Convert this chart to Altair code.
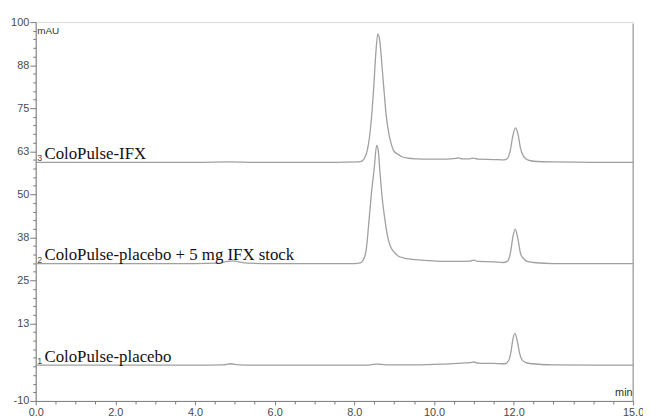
import altair as alt
import pandas as pd

# ---- data ----
t3 = [0, 1, 2, 3, 4, 4.9, 5.5, 6.5, 7.5, 8.1, 8.2, 8.27, 8.33, 8.38, 8.43, 8.49, 8.54, 8.59, 8.64, 8.70,
      8.75, 8.80, 8.87, 8.93, 8.99, 9.1, 9.2, 9.35, 9.55, 9.9, 10.3, 10.55, 10.62, 10.7, 10.9, 11.0, 11.1,
      11.5, 11.75, 11.85, 11.92, 11.98, 12.05, 12.11, 12.17, 12.25, 12.35, 12.5, 13.0, 14.0, 15.0]
v3 = [59.3, 59.3, 59.3, 59.3, 59.3, 59.4, 59.3, 59.3, 59.3, 59.4, 59.7, 60.8, 63.0, 66.5, 72.0, 81.5, 91.0,
      96.6, 94.5, 86.6, 79.5, 73.0, 67.4, 64.5, 62.6, 61.6, 60.9, 60.5, 60.3, 60.2, 60.2, 60.4, 60.6, 60.3,
      60.3, 60.5, 60.2, 60.1, 60.0, 60.5, 63.0, 67.0, 69.3, 67.5, 63.5, 61.0, 60.0, 59.6, 59.4, 59.3, 59.3]

t2 = [0, 1, 2, 3, 4, 4.6, 4.8, 4.95, 5.1, 5.3, 6, 7, 8.0, 8.15, 8.22, 8.3, 8.37, 8.44, 8.50, 8.56, 8.60,
      8.64, 8.70, 8.77, 8.84, 8.91, 9.0, 9.11, 9.25, 9.4, 9.78, 10.2, 10.6, 10.9, 11.0, 11.1, 11.5, 11.75,
      11.85, 11.92, 11.98, 12.04, 12.10, 12.18, 12.26, 12.34, 12.5, 13.0, 14.0, 15.0]
v2 = [29.9, 29.9, 29.9, 29.9, 29.9, 30.0, 30.5, 30.7, 30.4, 30.0, 29.9, 29.9, 29.9, 30.1, 30.8, 34.0, 42.5,
      51.5, 57.5, 64.2, 62.8, 57.0, 49.0, 42.5, 37.5, 34.8, 33.2, 32.0, 31.5, 31.2, 30.8, 30.5, 30.5, 30.6,
      30.9, 30.5, 30.4, 30.2, 30.6, 33.0, 37.5, 39.9, 37.5, 32.5, 31.2, 30.5, 30.2, 29.9, 29.9, 29.9]

t1 = [0, 1, 2, 3, 4, 4.7, 4.9, 5.1, 5.5, 6.5, 7.5, 8.3, 8.55, 8.8, 9.5, 10.2, 10.7, 10.9, 11.0, 11.1, 11.5,
      11.78, 11.87, 11.93, 11.98, 12.03, 12.09, 12.15, 12.22, 12.3, 12.45, 13.0, 14.0, 15.0]
v1 = [0.4, 0.4, 0.4, 0.4, 0.4, 0.5, 0.8, 0.5, 0.4, 0.4, 0.4, 0.4, 0.7, 0.5, 0.5, 0.7, 1.0, 1.1, 1.3, 1.0,
      0.9, 0.8, 1.6, 4.0, 7.8, 9.6, 7.5, 3.8, 1.8, 1.2, 0.8, 0.5, 0.4, 0.4]

trace_ids = ["3", "2", "1"]
trace_names = ["ColoPulse-IFX", "ColoPulse-placebo + 5 mg IFX stock", "ColoPulse-placebo"]
name_t = [0.22, 0.22, 0.22]
name_v = [60.3, 30.9, 1.2]
id_t = [0.04, 0.04, 0.04]
id_v = [59.7, 30.1, 0.8]

# right-hand border line of the chromatogram window
edge_t = [15]
edge_lo = [-10]
edge_hi = [99.5]

x_ticks = [0, 2, 4, 6, 8, 10, 12, 15]
x_minor = [0.5, 1, 1.5, 2.5, 3, 3.5, 4.5, 5, 5.5, 6.5, 7, 7.5, 8.5, 9, 9.5, 10.5, 11, 11.5, 12.5, 13, 13.5, 14, 14.5]
y_ticks = [100, 87.5, 75, 62.5, 50, 37.5, 25, 12.5, -10]
y_minor = [97.5, 95, 92.5, 90, 85, 82.5, 80, 77.5, 72.5, 70, 67.5, 65, 60, 57.5, 55, 52.5, 47.5, 45, 42.5, 40,
           35, 32.5, 30, 27.5, 22.5, 20, 17.5, 15, 10, 7.5, 5, 2.5, 0, -2.5, -5, -7.5]

# ---- build tables ----
rows = []
for tid, ts, vs in zip(trace_ids, [t3, t2, t1], [v3, v2, v1]):
    assert len(ts) == len(vs)
    for t, v in zip(ts, vs):
        rows.append({"trace": tid, "t": t, "v": v})
df = pd.DataFrame(rows)
names = pd.DataFrame({"t": name_t, "v": name_v, "label": trace_names})
ids = pd.DataFrame({"t": id_t, "v": id_v, "label": trace_ids})
edge_df = pd.DataFrame({"t": edge_t, "lo": edge_lo, "hi": edge_hi})

W, H = 604, 383
AX = "#7a7a7a"
LAB = "#4a4a4a"

xscale = alt.Scale(domain=[0, 15], nice=False, zero=False)
yscale = alt.Scale(domain=[-10, 100], nice=False, zero=False)

x_axis = alt.Axis(values=x_ticks, format=".1f", title="min", grid=False,
                  domainColor=AX, tickColor=AX, tickSize=4, labelColor=LAB, labelFont="Liberation Sans",
                  labelFontSize=11, labelPadding=2, labelFlush=False, labelOverlap=False,
                  titleFont="Liberation Sans", titleFontSize=11, titleFontWeight="normal", titleColor="#333333",
                  titleX=W - 1, titleY=-3, titleAlign="right", titleBaseline="bottom", titleLimit=200,
                  orient="bottom")
y_axis = alt.Axis(values=y_ticks, labelExpr="replace(format(datum.value, '.0f'), '\u2212', '-')",
                  title="mAU", grid=False,
                  domainColor=AX, tickColor=AX, tickSize=6, labelColor=LAB, labelFont="Liberation Sans",
                  labelFontSize=11, labelPadding=1, labelOverlap=False, labelFlush=False,
                  titleFont="Liberation Sans", titleFontSize=10, titleFontWeight="normal", titleColor="#333333",
                  titleAngle=0, titleX=1, titleY=9, titleAlign="left", titleBaseline="middle", titleLimit=200,
                  orient="left")

lines = alt.Chart(df).mark_line(color="#a0a0a0", strokeWidth=1.3, interpolate="monotone").encode(
    x=alt.X("t:Q", scale=xscale, axis=x_axis),
    y=alt.Y("v:Q", scale=yscale, axis=y_axis),
    detail="trace:N",
)

edge = alt.Chart(edge_df).mark_rule(color="#9c9c9c", strokeWidth=1.2).encode(
    x=alt.X("t:Q", scale=xscale,
            axis=alt.Axis(values=x_minor, labels=False, domain=False, title=None, grid=False,
                          tickColor=AX, tickSize=3, orient="bottom")),
    y=alt.Y("lo:Q", scale=yscale,
            axis=alt.Axis(values=y_minor, labels=False, domain=False, title=None, grid=False,
                          tickColor=AX, tickSize=3, orient="left")),
    y2="hi:Q",
)

name_text = alt.Chart(names).mark_text(font="Liberation Serif", fontSize=17, color="#111111",
                                       align="left", baseline="alphabetic").encode(
    x=alt.X("t:Q", scale=xscale, axis=None), y=alt.Y("v:Q", scale=yscale, axis=None), text="label:N")

id_text = alt.Chart(ids).mark_text(font="Liberation Sans", fontSize=9, color=LAB,
                                   align="left", baseline="alphabetic").encode(
    x=alt.X("t:Q", scale=xscale, axis=None), y=alt.Y("v:Q", scale=yscale, axis=None), text="label:N")

chart = alt.layer(lines, edge, name_text, id_text).resolve_axis(
    x="independent", y="independent"
).properties(
    width=W, height=H,
    autosize=alt.AutoSizeParams(type="none"),
    padding={"left": 28, "top": 12, "right": 10, "bottom": 16},
).configure_view(stroke=None).configure(background="white")

chart.save("out.html", embed_options={"renderer": "svg", "actions": False})
